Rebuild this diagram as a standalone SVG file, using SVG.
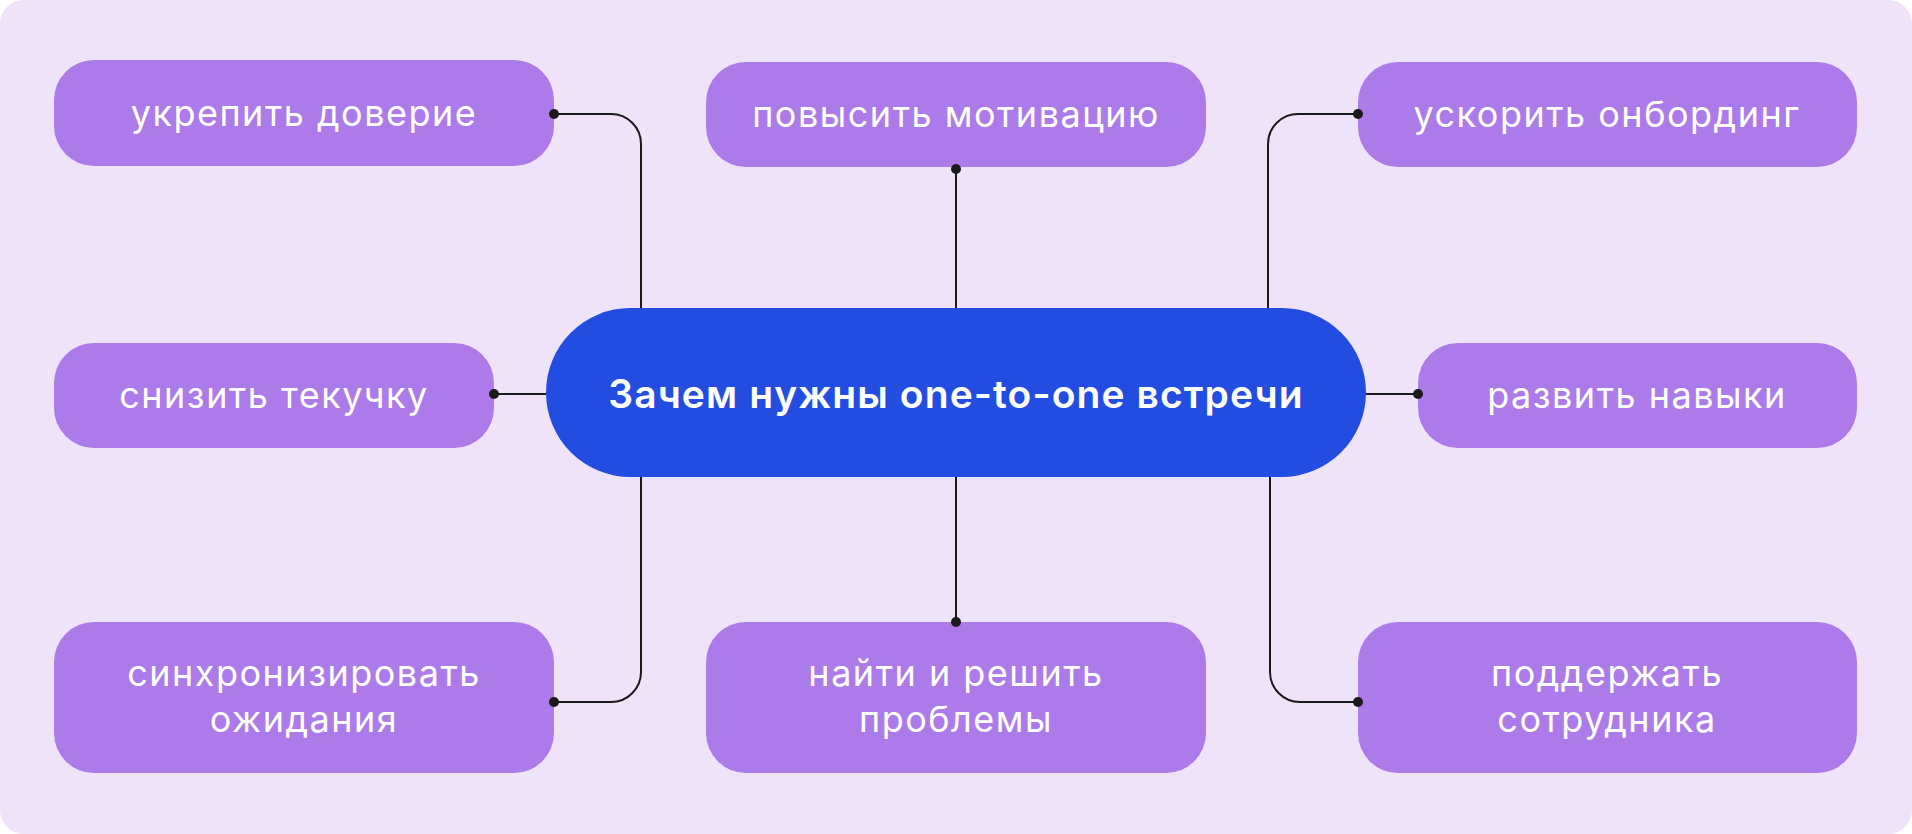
<svg xmlns="http://www.w3.org/2000/svg" width="1912" height="834" viewBox="0 0 1912 834">
<style>
.bg{fill:#EEE3F8}
.box{fill:#AD7BE9}
.hub{fill:#234DE0}
.lbl{font-family:Inter,"Noto Sans",sans-serif;font-size:36px;fill:#FFFFFF;text-anchor:middle;letter-spacing:1.5px}
.hubt{font-family:Inter,"Noto Sans",sans-serif;font-size:39px;font-weight:600;fill:#FFFFFF;text-anchor:middle;letter-spacing:1.1px}
.ln{fill:none;stroke:#1A1A1A;stroke-width:2}
.dot{fill:#1A1A1A}
</style>
<rect class="bg" x="0" y="0" width="1912" height="834" rx="24"/>
<g id="hub">
<rect class="hub" x="546" y="308" width="820" height="169" rx="84.5"/>
<text class="hubt" x="956" y="408">Зачем нужны one-to-one встречи</text>
</g>
<g id="n1">
<rect class="box" x="54" y="60" width="500" height="106" rx="40"/>
<text class="lbl" x="304" y="126">укрепить доверие</text>
</g>
<g id="n2">
<rect class="box" x="706" y="62" width="500" height="105" rx="40"/>
<text class="lbl" x="956" y="127">повысить мотивацию</text>
</g>
<g id="n3">
<rect class="box" x="1358" y="62" width="499" height="105" rx="40"/>
<text class="lbl" x="1607" y="127">ускорить онбординг</text>
</g>
<g id="n4">
<rect class="box" x="54" y="343" width="440" height="105" rx="40"/>
<text class="lbl" x="274" y="408">снизить текучку</text>
</g>
<g id="n5">
<rect class="box" x="1418" y="343" width="439" height="105" rx="40"/>
<text class="lbl" x="1637" y="408">развить навыки</text>
</g>
<g id="n6">
<rect class="box" x="54" y="622" width="500" height="151" rx="40"/>
<text class="lbl" x="304" y="686">синхронизировать</text>
<text class="lbl" x="304" y="732">ожидания</text>
</g>
<g id="n7">
<rect class="box" x="706" y="622" width="500" height="151" rx="40"/>
<text class="lbl" x="956" y="686">найти и решить</text>
<text class="lbl" x="956" y="732">проблемы</text>
</g>
<g id="n8">
<rect class="box" x="1358" y="622" width="499" height="151" rx="40"/>
<text class="lbl" x="1607" y="686">поддержать</text>
<text class="lbl" x="1607" y="732">сотрудника</text>
</g>
<g id="connectors">
<path class="ln" d="M554,114 H611 A30,30 0 0 1 641,144 V308"/>
<path class="ln" d="M956,169 V308"/>
<path class="ln" d="M1358,114 H1298 A30,30 0 0 0 1268,144 V308"/>
<path class="ln" d="M494,394 H546"/>
<path class="ln" d="M1366,394 H1418"/>
<path class="ln" d="M641,477 V672 A30,30 0 0 1 611,702 H554"/>
<path class="ln" d="M956,477 V622"/>
<path class="ln" d="M1270,477 V672 A30,30 0 0 0 1300,702 H1358"/>
<circle class="dot" cx="554" cy="114" r="5"/>
<circle class="dot" cx="956" cy="169" r="5"/>
<circle class="dot" cx="1358" cy="114" r="5"/>
<circle class="dot" cx="494" cy="394" r="5"/>
<circle class="dot" cx="1418" cy="394" r="5"/>
<circle class="dot" cx="554" cy="702" r="5"/>
<circle class="dot" cx="956" cy="622" r="5"/>
<circle class="dot" cx="1358" cy="702" r="5"/>
</g>
</svg>
